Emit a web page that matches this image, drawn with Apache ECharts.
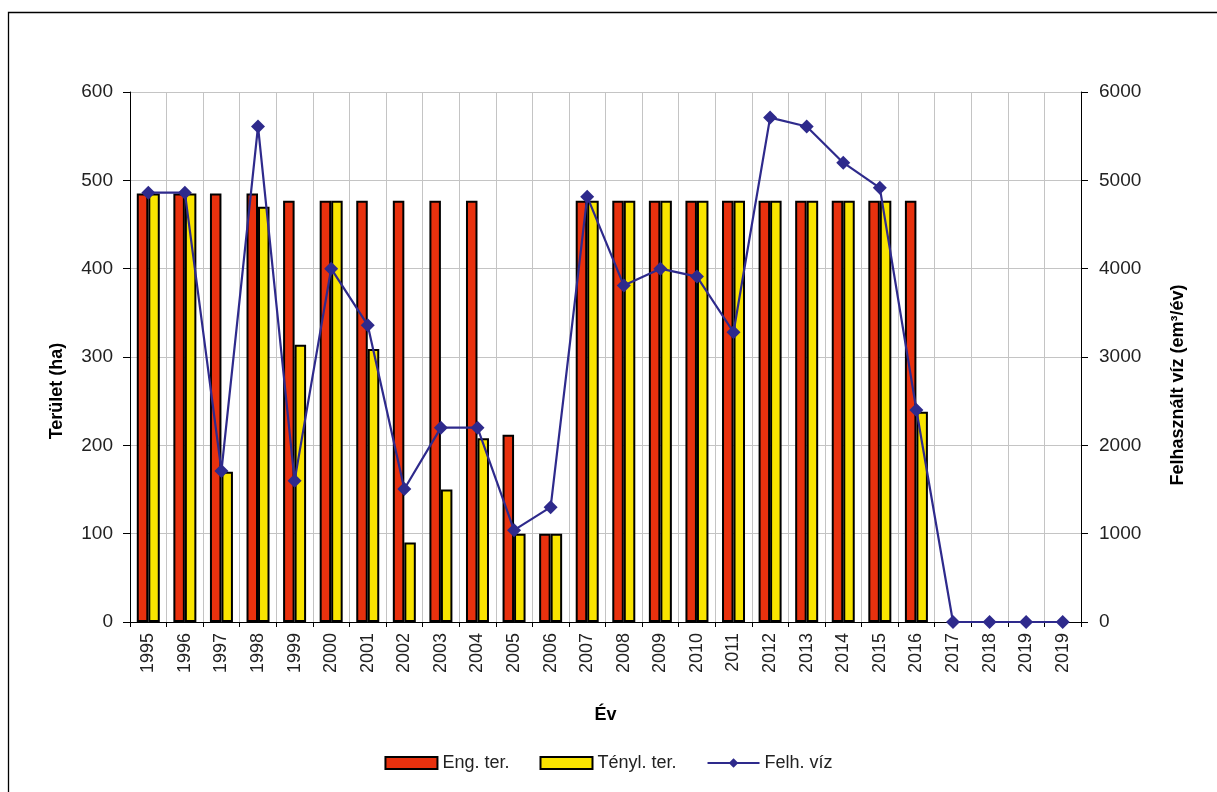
<!DOCTYPE html>
<html>
<head>
<meta charset="utf-8">
<script src="https://cdn.jsdelivr.net/npm/echarts@6/dist/echarts.min.js"></script>
<style>
html,body{margin:0;padding:0;background:#fff;}
#chart{width:1217px;height:792px;}
</style>
</head>
<body>
<div id="chart"></div>
<script>
const years = ['1995','1996','1997','1998','1999','2000','2001','2002','2003','2004','2005','2006','2007','2008','2009','2010','2011','2012','2013','2014','2015','2016','2017','2018','2019','2019'];
const engTer = [485,485,485,485,477,477,477,477,477,477,212,100,477,477,477,477,477,477,477,477,477,477,null,null,null,null];
const tenylTer = [485,485,170,470,314,477,309,90,150,208,100,100,477,477,477,477,477,477,477,477,477,238,null,null,null,null];
const felhViz = [4860,4860,1710,5610,1600,4000,3360,1505,2200,2200,1040,1300,4815,3810,4000,3910,3280,5710,5610,5200,4915,2400,0,0,0,0];
const leftTicks = [0,100,200,300,400,500,600];
const rightTicks = [0,1000,2000,3000,4000,5000,6000];

const FONT = '"Liberation Sans", Arial, sans-serif';
const chart = echarts.init(document.getElementById('chart'), null, {renderer:'canvas'});
chart.setOption({
  backgroundColor:'#ffffff',
  animation:false,
  textStyle:{fontFamily:FONT},
  graphic:[{type:'rect', shape:{x:8.5,y:12.5,width:1240,height:800}, style:{fill:'none', stroke:'#000', lineWidth:1.3}, silent:true, z:-1}],
  grid:{left:130, right:136, top:92, bottom:170},
  legend:{
    bottom:15, left:'center', itemWidth:52, itemHeight:12, itemGap:30,
    textStyle:{fontFamily:FONT, fontSize:18, color:'#222'},
    data:[{name:'Eng. ter.', icon:'rect'},{name:'Tényl. ter.', icon:'rect'},{name:'Felh. víz'}]
  },
  xAxis:{
    type:'category', data:years,
    name:'Év', nameLocation:'middle', nameGap:84,
    nameTextStyle:{fontFamily:FONT, fontWeight:'bold', fontSize:18, color:'#000'},
    axisLine:{lineStyle:{color:'#000', width:1}},
    axisTick:{show:true, alignWithLabel:false, length:5, lineStyle:{color:'#000'}},
    axisLabel:{rotate:90, interval:0, fontFamily:FONT, fontSize:18, color:'#222', margin:11},
    splitLine:{show:true, interval:0, lineStyle:{color:'#c4c4c4', width:1}}
  },
  yAxis:[{
    type:'value', min:0, max:600, interval:100,
    name:'Terület (ha)', nameLocation:'middle', nameGap:64, nameRotate:90,
    nameTextStyle:{fontFamily:FONT, fontWeight:'bold', fontSize:18, color:'#000', padding:[0,68,0,0]},
    axisLine:{show:true, lineStyle:{color:'#000'}},
    axisTick:{show:true, length:7, lineStyle:{color:'#000'}},
    axisLabel:{fontFamily:FONT, fontSize:19, color:'#222', margin:17, formatter:v=>leftTicks.includes(v)?String(v):''},
    splitLine:{show:true, lineStyle:{color:'#c4c4c4', width:1}}
  },{
    type:'value', min:0, max:6000, interval:1000, position:'right',
    name:'Felhasznált víz (em³/év)', nameLocation:'middle', nameGap:88, nameRotate:90,
    nameTextStyle:{fontFamily:FONT, fontWeight:'bold', fontSize:18, color:'#000', padding:[0,56,0,0]},
    axisLine:{show:true, lineStyle:{color:'#000'}},
    axisTick:{show:true, length:7, lineStyle:{color:'#000'}},
    axisLabel:{fontFamily:FONT, fontSize:19, color:'#222', margin:18, formatter:v=>rightTicks.includes(v)?String(v):''},
    splitLine:{show:false}
  }],
  series:[{
    name:'Eng. ter.', type:'bar', data:engTer, barWidth:11.5, barGap:'0%',
    itemStyle:{color:'#e8310e', borderColor:'#000', borderWidth:2}
  },{
    name:'Tényl. ter.', type:'bar', data:tenylTer, barWidth:11.5, barGap:'0%',
    itemStyle:{color:'#f9e400', borderColor:'#000', borderWidth:2}
  },{
    name:'Felh. víz', type:'line', yAxisIndex:1, data:felhViz,
    symbol:'diamond', symbolSize:14,
    lineStyle:{color:'#2e2a8c', width:2.2},
    itemStyle:{color:'#2e2a8c'}, z:5
  }]
});
</script>
</body>
</html>
